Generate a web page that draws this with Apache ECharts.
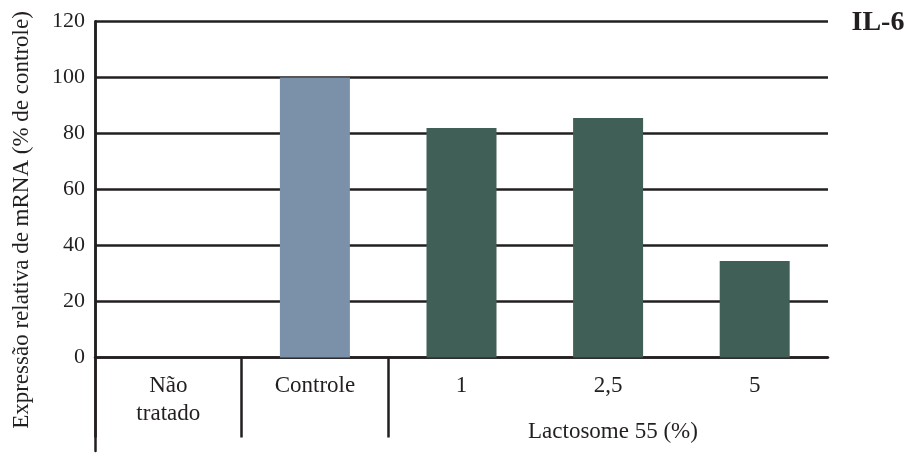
<!DOCTYPE html>
<html><head><meta charset="utf-8">
<script src="https://cdn.jsdelivr.net/npm/echarts@6/dist/echarts.min.js"></script>
<style>html,body{margin:0;padding:0;background:#fff}#c{width:909px;height:454px}</style>
</head><body><div id="c"></div>
<script>
const categories = ['Não\ntratado', 'Controle', '1', '2,5', '5'];
const controleValues = [null, 100, null, null, null];
const lactosomeValues = [null, null, 82, 85.5, 34.5];
const yTicks = [0, 20, 40, 60, 80, 100, 120];
const yTitle = 'Expressão relativa de mRNA (% de controle)';
const groupLabel = 'Lactosome 55 (%)';
const panelLabel = 'IL-6';

const ink = '#231f20';
const serif = '"Liberation Serif", "Times New Roman", serif';
const rev = a => a.slice().reverse();
const chart = echarts.init(document.getElementById('c'), null, {renderer: 'canvas'});
chart.setOption({
  animation: false,
  backgroundColor: '#fff',
  grid: [
    {left: 95, right: 81, top: 21.5, bottom: 96.5, containLabel: false, outerBoundsMode: 'none'},
    {left: 95, right: 81, top: 21.5, bottom: 3, containLabel: false, outerBoundsMode: 'none'}
  ],
  xAxis: [{
    type: 'category', data: rev(categories), inverse: true, boundaryGap: true, gridIndex: 0,
    axisLine: {show: true, lineStyle: {color: ink, width: 2.5}},
    axisTick: {show: true, length: 80, lineStyle: {color: ink, width: 2.5},
      interval: function (i) { return i === 3 || i === 4; }},
    axisLabel: {color: ink, fontFamily: serif, fontSize: 23, lineHeight: 28, margin: 14, interval: 0}
  }, {
    type: 'category', data: categories, gridIndex: 1, show: false
  }],
  yAxis: [{
    type: 'value', min: yTicks[0], max: yTicks[yTicks.length - 1], interval: 20, gridIndex: 0,
    axisLine: {show: true, lineStyle: {color: ink, width: 2.5}},
    axisTick: {show: false},
    splitLine: {show: true, lineStyle: {color: ink, width: 2.5}},
    axisLabel: {color: ink, fontFamily: serif, fontSize: 22, margin: 10}
  }, {
    type: 'value', gridIndex: 1, min: 0, max: 1,
    axisLine: {show: true, lineStyle: {color: ink, width: 2.5}},
    axisTick: {show: false}, axisLabel: {show: false}, splitLine: {show: false}
  }],
  graphic: [
    {type: 'text', x: 22, y: 220, rotation: Math.PI / 2, style: {text: yTitle, fill: ink, font: '23px ' + serif, textAlign: 'center', textVerticalAlign: 'middle'}},
    {type: 'text', x: 878, y: 23, style: {text: panelLabel, fill: ink, font: 'bold 28px ' + serif, textAlign: 'center', textVerticalAlign: 'middle'}},
    {type: 'text', x: 613, y: 432, style: {text: groupLabel, fill: ink, font: '23px ' + serif, textAlign: 'center', textVerticalAlign: 'middle'}}
  ],
  series: [
    {type: 'bar', name: 'Controle', data: rev(controleValues), barWidth: 70, barGap: '-100%',
      itemStyle: {color: '#7b91a9'}, z: 3},
    {type: 'bar', name: 'Lactosome 55', data: rev(lactosomeValues), barWidth: 70, barGap: '-100%',
      itemStyle: {color: '#405f57'}, z: 3}
  ]
});
</script></body></html>
